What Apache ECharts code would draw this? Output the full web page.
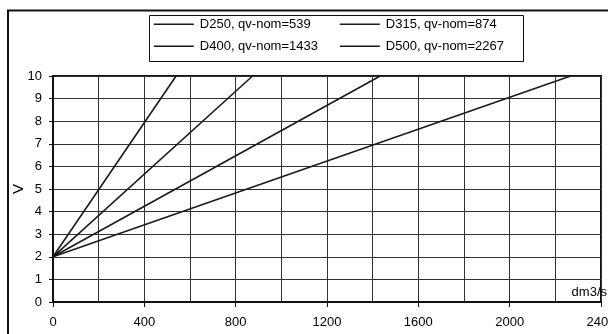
<!DOCTYPE html>
<html>
<head>
<meta charset="utf-8">
<script src="https://cdn.jsdelivr.net/npm/echarts@6/dist/echarts.min.js"></script>
<style>
html,body{margin:0;padding:0;background:#fff;}
#chart{width:608px;height:334px;}
</style>
</head>
<body>
<div id="chart"></div>
<script>
// Data
var seriesNames = ['D250, qv-nom=539', 'D315, qv-nom=874', 'D400, qv-nom=1433', 'D500, qv-nom=2267'];
var flowStart = [0, 0, 0, 0];
var velStart = [2, 2, 2, 2];
var flowEnd = [539, 874, 1433, 2267];
var velEnd = [10, 10, 10, 10];
var xTicks = [0, 400, 800, 1200, 1600, 2000, 2400];
var yTicks = [0, 1, 2, 3, 4, 5, 6, 7, 8, 9, 10];

var FONT = '"Liberation Sans", Arial, sans-serif';
var chart = echarts.init(document.getElementById('chart'), null, {renderer: 'canvas'});

var series = seriesNames.map(function (n, i) {
  return {
    name: n,
    type: 'line',
    symbol: 'none',
    silent: true,
    data: [[flowStart[i], velStart[i]], [flowEnd[i], velEnd[i]]],
    lineStyle: {color: '#1a1a1a', width: 1.6},
    itemStyle: {color: '#1a1a1a'}
  };
});

function legendAt(left, names) {
  return {
    orient: 'vertical',
    left: left,
    top: 17.7,
    itemWidth: 40,
    itemHeight: 14,
    itemGap: 9,
    padding: 0,
    selectedMode: false,
    data: names,
    itemStyle: {opacity: 0},
    lineStyle: {color: '#1a1a1a', width: 1.6, opacity: 1},
    textStyle: {fontFamily: FONT, fontSize: 13, color: '#000', padding: [0, 0, 0, 1]}
  };
}

chart.setOption({
  animation: false,
  backgroundColor: '#fff',
  textStyle: {fontFamily: FONT},
  grid: {left: 53, right: 7, top: 76, bottom: 32, show: true, borderColor: '#111', borderWidth: 2, containLabel: false, outerBoundsMode: 'none'},
  legend: [
    legendAt(153, [seriesNames[0], seriesNames[2]]),
    legendAt(339, [seriesNames[1], seriesNames[3]])
  ],
  xAxis: {
    type: 'value',
    min: xTicks[0],
    max: xTicks[xTicks.length - 1],
    interval: 400,
    name: 'dm3/s',
    nameLocation: 'end',
    nameGap: 6,
    nameTextStyle: {fontFamily: FONT, fontSize: 13, color: '#000', align: 'right', verticalAlign: 'bottom', padding: [0, 0, 3, 0]},
    axisLine: {show: true, onZero: false, lineStyle: {color: '#111', width: 2}},
    axisTick: {show: true, length: 5, lineStyle: {color: '#111', width: 1}},
    axisLabel: {fontFamily: FONT, fontSize: 13, color: '#000', margin: 14, formatter: function (v) { return String(v); }},
    splitLine: {show: true, lineStyle: {color: '#333', width: 1}},
    minorTick: {show: false, splitNumber: 2},
    minorSplitLine: {show: true, lineStyle: {color: '#333', width: 1}}
  },
  yAxis: {
    type: 'value',
    min: yTicks[0],
    max: yTicks[yTicks.length - 1],
    interval: 1,
    name: 'V',
    nameLocation: 'middle',
    nameGap: 27,
    nameRotate: 90,
    nameMoveOverlap: false,
    nameTextStyle: {fontFamily: FONT, fontSize: 15, color: '#000'},
    axisLine: {show: true, onZero: false, lineStyle: {color: '#111', width: 2}},
    axisTick: {show: true, length: 4, lineStyle: {color: '#111', width: 1}},
    axisLabel: {fontFamily: FONT, fontSize: 13, color: '#000', margin: 11, formatter: function (v) { return String(v); }},
    splitLine: {show: true, lineStyle: {color: '#333', width: 1}}
  },
  graphic: [
    {type: 'rect', silent: true, z: 100, shape: {x: 8, y: 10.5, width: 700, height: 400}, style: {fill: 'none', stroke: '#111', lineWidth: 2}},
    {type: 'rect', silent: true, z: 100, shape: {x: 149.5, y: 15.5, width: 374, height: 46}, style: {fill: 'none', stroke: '#111', lineWidth: 1}}
  ],
  series: series
});
</script>
</body>
</html>
